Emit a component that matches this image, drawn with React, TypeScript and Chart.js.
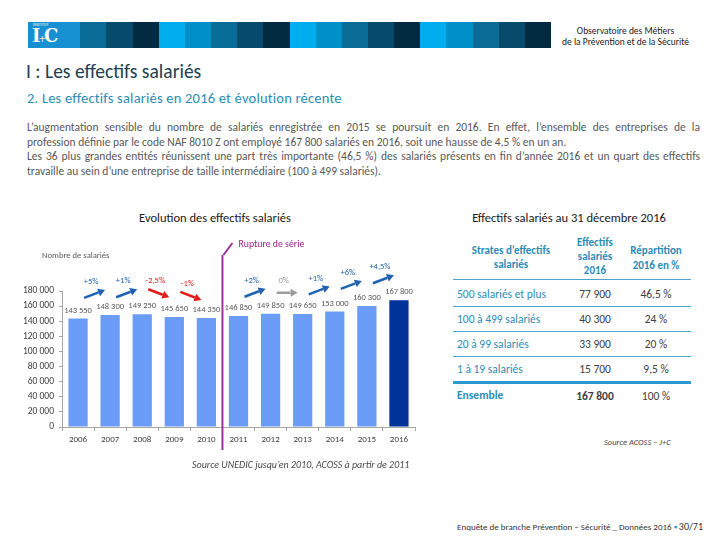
import React, { useEffect, useRef } from 'react';
import { Chart, registerables } from 'chart.js';

Chart.register(...registerables);

const FONT = "Carlito, Lato, 'Open Sans', sans-serif";

// ---- Chart data ----
const years = ['2006', '2007', '2008', '2009', '2010', '2011', '2012', '2013', '2014', '2015', '2016'];
const salaries = [143550, 148300, 149250, 145650, 144350, 146850, 149850, 149650, 153000, 160300, 167800];
// evolution labels between consecutive years ('' = no arrow, across the series break)
const evolutions = ['+5%', '+1%', '-2,5%', '-1%', '', '+2%', '0%', '+1%', '+6%', '+4,5%'];
const yMax = 180000;
const yStep = 20000;

// ---- Table data ----
const strates = ['500 salariés et plus', '100 à 499 salariés', '20 à 99 salariés', '1 à 19 salariés'];
const effectifs = ['77 900', '40 300', '33 900', '15 700'];
const repartition = ['46,5 %', '24 %', '20 %', '9,5 %'];
const totalLabel = 'Ensemble';
const totalEffectif = '167 800';
const totalRepartition = '100 %';

const bannerColors = ['#00aeef', '#0090c8', '#0a6d98', '#064b6b', '#022b42'];

const fmt = (n: number) => String(n).replace(/\B(?=(\d{3})+(?!\d))/g, ' ');

const overlayPlugin = {
  id: 'overlay',
  afterDatasetsDraw(chart: any) {
    const { ctx } = chart;
    const x = chart.scales.x;
    const y = chart.scales.y;
    ctx.save();
    // value labels
    ctx.font = `8.5px ${FONT}`;
    ctx.fillStyle = '#595959';
    ctx.textAlign = 'center';
    ctx.textBaseline = 'middle';
    salaries.forEach((v, i) => {
      ctx.fillText(fmt(v), x.getPixelForValue(i), y.getPixelForValue(v) - 8);
    });
    // evolution arrows
    evolutions.forEach((lab, i) => {
      if (!lab) return;
      const m = (x.getPixelForValue(i) + x.getPixelForValue(i + 1)) / 2;
      const yb = y.getPixelForValue(Math.max(salaries[i], salaries[i + 1])) - 21;
      const s = lab.startsWith('+') ? 1 : lab.startsWith('-') ? -1 : 0;
      const color = s > 0 ? '#1f62b0' : s < 0 ? '#e31b1b' : '#9a9a9a';
      const sx = m - 10, sy = yb + 4 * s, ex = m + 11, ey = yb - 4 * s;
      const ang = Math.atan2(ey - sy, ex - sx);
      const hl = 7, hw = 4;
      const bx = ex - hl * Math.cos(ang), by = ey - hl * Math.sin(ang);
      ctx.strokeStyle = color;
      ctx.fillStyle = color;
      ctx.lineWidth = 2.5;
      ctx.beginPath();
      ctx.moveTo(sx, sy);
      ctx.lineTo(bx, by);
      ctx.stroke();
      ctx.beginPath();
      ctx.moveTo(ex, ey);
      ctx.lineTo(bx + hw * Math.sin(ang), by - hw * Math.cos(ang));
      ctx.lineTo(bx - hw * Math.sin(ang), by + hw * Math.cos(ang));
      ctx.closePath();
      ctx.fill();
      ctx.font = `8.5px ${FONT}`;
      ctx.textAlign = 'center';
      ctx.fillText(lab, m - 3, yb - 12);
    });
    // series break
    const xr = (x.getPixelForValue(4) + x.getPixelForValue(5)) / 2;
    ctx.strokeStyle = '#993399';
    ctx.lineWidth = 2;
    ctx.beginPath();
    ctx.moveTo(xr, 25);
    ctx.lineTo(xr, 220);
    ctx.stroke();
    ctx.beginPath();
    ctx.moveTo(xr + 1, 25);
    ctx.lineTo(xr + 10, 13);
    ctx.stroke();
    ctx.fillStyle = '#a0208a';
    ctx.font = `9.8px ${FONT}`;
    ctx.textAlign = 'left';
    ctx.fillText('Rupture de série', xr + 16, 15);
    // axis title
    ctx.fillStyle = '#595959';
    ctx.font = `8.6px ${FONT}`;
    ctx.fillText('Nombre de salariés', 42, 26);
    ctx.restore();
  },
};

function BarChart() {
  const ref = useRef<HTMLCanvasElement>(null);
  useEffect(() => {
    if (!ref.current) return;
    const axisColor = '#a6a6a6';
    const chart = new Chart(ref.current, {
      type: 'bar',
      data: {
        labels: years,
        datasets: [
          {
            data: salaries,
            backgroundColor: salaries.map((_, i) => (i === salaries.length - 1 ? '#003399' : '#6b9cf7')),
            barPercentage: 0.6,
            categoryPercentage: 1,
          },
        ],
      },
      options: {
        animation: false,
        responsive: false,
        maintainAspectRatio: false,
        layout: { padding: { top: 61, right: 25, left: 0, bottom: 0 } },
        plugins: { legend: { display: false }, tooltip: { enabled: false } },
        scales: {
          x: {
            grid: { drawOnChartArea: false, drawTicks: true, tickLength: 4, color: axisColor, offset: true },
            border: { color: axisColor },
            ticks: { color: '#404040', font: { size: 9, family: FONT }, padding: 3, maxRotation: 0, autoSkip: false },
            afterFit: (s: any) => {
              s.height = 33;
            },
          },
          y: {
            min: 0,
            max: yMax,
            ticks: {
              stepSize: yStep,
              color: '#404040',
              font: { size: 9.5, family: FONT },
              padding: 5,
              callback: (v: any) => fmt(Number(v)),
            },
            grid: { drawOnChartArea: false, tickLength: 3, color: axisColor },
            border: { color: axisColor },
            afterFit: (s: any) => {
              s.width = 62;
            },
          },
        },
      },
      plugins: [overlayPlugin],
    } as any);
    return () => chart.destroy();
  }, []);
  return <canvas ref={ref} width={440} height={230} style={{ display: 'block', width: 440, height: 230 }} />;
}

const abs = (left: number, top: number, extra: React.CSSProperties = {}): React.CSSProperties => ({
  position: 'absolute',
  left,
  top,
  whiteSpace: 'nowrap',
  ...extra,
});

const teal = '#2b8cb5';

export default function App() {
  const blocks = Array.from({ length: 20 }, (_, i) => i);
  const rowY = [294, 319, 344, 369];
  const lineY = [306, 331, 356];
  const cell: React.CSSProperties = { fontSize: 11.5, lineHeight: '14px' };
  return (
    <div
      style={{
        position: 'absolute',
        left: 0,
        top: 0,
        width: 720,
        height: 540,
        overflow: 'hidden',
        background: '#fff',
        fontFamily: FONT,
      }}
    >
      {/* banner */}
      {blocks.map((i) => (
        <div
          key={i}
          style={abs(28 + i * 26.15, 22, { width: 26.4, height: 26, background: bannerColors[i % 5] })}
        />
      ))}
      <div style={abs(28, 22, { width: 52, height: 26, background: '#1690d0' })} />
      <div style={abs(33, 23, { fontSize: 3.5, color: '#fff', fontFamily: 'Arial' })}>INSTITUT</div>
      <div
        style={abs(32, 26, {
          fontSize: 18,
          color: '#fff',
          fontFamily: "'DejaVu Serif', 'Liberation Serif', serif",
          fontWeight: 700,
          lineHeight: '20px',
          letterSpacing: -2,
        })}
      >
        I<span style={{ fontSize: 9, color: '#cfd8e0' }}>+</span>C
      </div>
      <div
        style={abs(548, 26, {
          width: 155,
          textAlign: 'center',
          fontSize: 9.5,
          lineHeight: '11px',
          color: '#222',
        })}
      >
        Observatoire des Métiers
        <br />
        de la Prévention et de la Sécurité
      </div>

      {/* titles */}
      <div style={abs(26, 60, { fontSize: 19.5, fontWeight: 300, color: '#22404f', lineHeight: '22px' })}>
        I : Les effectifs salariés
      </div>
      <div style={abs(27, 89, { fontSize: 14.5, color: teal, lineHeight: '18px', letterSpacing: 0.2 })}>
        2. Les effectifs salariés en 2016 et évolution récente
      </div>

      {/* paragraph */}
      <div style={abs(27, 120, { width: 673, fontSize: 11.5, lineHeight: '14.7px', color: '#595959', whiteSpace: 'normal' })}>
        <div style={{ textAlign: 'justify', textAlignLast: 'justify', whiteSpace: 'nowrap' }}>
          L’augmentation sensible du nombre de salariés enregistrée en 2015 se poursuit en 2016. En effet, l’ensemble des
          entreprises de la
        </div>
        <div style={{ whiteSpace: 'nowrap' }}>
          profession définie par le code NAF 8010 Z ont employé 167 800 salariés en 2016, soit une hausse de 4,5 % en un an.
        </div>
        <div style={{ textAlign: 'justify', textAlignLast: 'justify', whiteSpace: 'nowrap' }}>
          Les 36 plus grandes entités réunissent une part très importante (46,5 %) des salariés présents en fin d’année 2016 et
          un quart des effectifs
        </div>
        <div style={{ whiteSpace: 'nowrap' }}>
          travaille au sein d’une entreprise de taille intermédiaire (100 à 499 salariés).
        </div>
      </div>

      {/* chart titles */}
      <div style={abs(95, 210, { width: 240, textAlign: 'center', fontSize: 12.5, color: '#1a1a1a' })}>
        Evolution des effectifs salariés
      </div>
      <div style={abs(449, 210, { width: 240, textAlign: 'center', fontSize: 12.5, color: '#1a1a1a' })}>
        Effectifs salariés au 31 décembre 2016
      </div>

      {/* chart */}
      <div style={abs(0, 230)}>
        <BarChart />
      </div>

      <div style={abs(192, 458, { fontSize: 10, fontStyle: 'italic', color: '#4a4a4a' })}>
        Source UNEDIC jusqu’en 2010, ACOSS à partir de 2011
      </div>

      {/* table header */}
      <div
        style={abs(451, 244, {
          width: 120,
          textAlign: 'center',
          fontSize: 11,
          fontWeight: 700,
          color: teal,
          lineHeight: '13.5px',
        })}
      >
        Strates d’effectifs
        <br />
        salariés
      </div>
      <div
        style={abs(560, 236, {
          width: 70,
          textAlign: 'center',
          fontSize: 11,
          fontWeight: 700,
          color: teal,
          lineHeight: '14px',
        })}
      >
        Effectifs
        <br />
        salariés
        <br />
        2016
      </div>
      <div
        style={abs(611, 244, {
          width: 90,
          textAlign: 'center',
          fontSize: 11,
          fontWeight: 700,
          color: teal,
          lineHeight: '14.5px',
        })}
      >
        Répartition
        <br />
        2016 en %
      </div>
      <div style={abs(453, 279, { width: 238, height: 1, background: '#4aa3c8' })} />

      {strates.map((s, i) => (
        <React.Fragment key={s}>
          <div style={abs(457, rowY[i] - 7, { ...cell, color: teal })}>{s}</div>
          <div style={abs(560, rowY[i] - 7, { ...cell, width: 70, textAlign: 'center', color: '#404040' })}>
            {effectifs[i]}
          </div>
          <div style={abs(611, rowY[i] - 7, { ...cell, width: 90, textAlign: 'center', color: '#404040' })}>
            {repartition[i]}
          </div>
        </React.Fragment>
      ))}
      {lineY.map((ly) => (
        <div key={ly} style={abs(453, ly, { width: 238, height: 1, background: '#4aa3c8' })} />
      ))}
      <div style={abs(453, 381, { width: 238, height: 3, background: '#2a9ad0' })} />
      <div style={abs(457, 388, { ...cell, fontWeight: 700, color: teal })}>{totalLabel}</div>
      <div style={abs(560, 389, { ...cell, width: 70, textAlign: 'center', fontWeight: 700, color: '#404040' })}>
        {totalEffectif}
      </div>
      <div style={abs(611, 389, { ...cell, width: 90, textAlign: 'center', color: '#404040' })}>
        {totalRepartition}
      </div>

      <div style={abs(604, 437, { fontSize: 8.5, fontStyle: 'italic', color: '#4a4a4a' })}>Source ACOSS – J+C</div>

      {/* footer */}
      <div style={abs(400, 520, { width: 303, textAlign: 'right', fontSize: 9, color: '#333' })}>
        Enquête de branche Prévention – Sécurité _ Données 2016 <span style={{ color: '#2b8cb5' }}>▪</span>{' '}
        <span style={{ fontSize: 10 }}>30/71</span>
      </div>
    </div>
  );
}
